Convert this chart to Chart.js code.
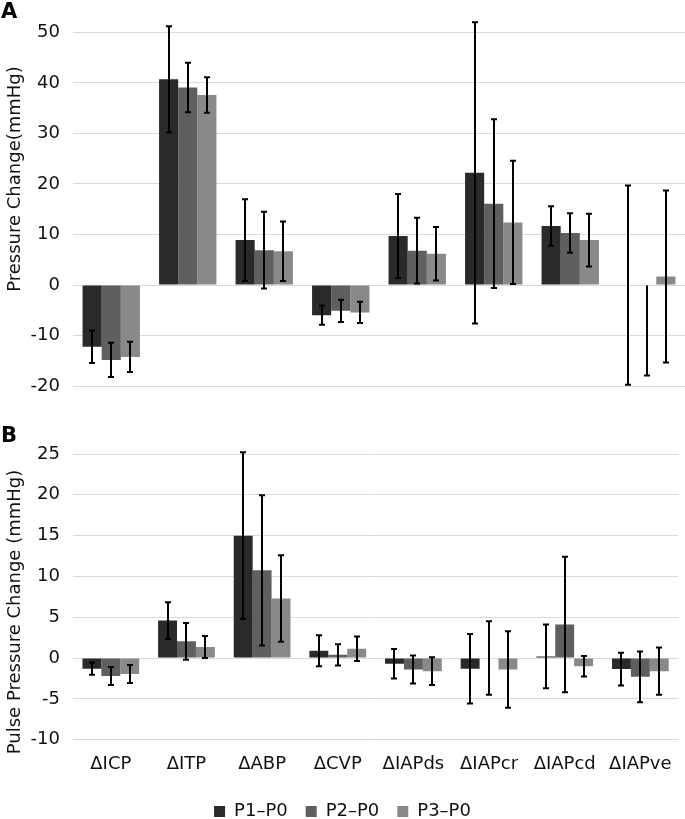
<!DOCTYPE html>
<html>
<head>
<meta charset="utf-8">
<script src="https://cdn.jsdelivr.net/npm/chart.js@4.4.0/dist/chart.umd.min.js"></script>
<style>
  body { margin: 0; background: #fff; }
  #wrap { position: relative; width: 685px; height: 819px; }
  #chartA { position: absolute; left: 0; top: 0; }
  #chartB { position: absolute; left: 0; top: 410px; }
</style>
</head>
<body>
<div id="wrap">
  <canvas id="chartA" width="685" height="410"></canvas>
  <canvas id="chartB" width="685" height="409"></canvas>
</div>
<script>
var categories = ["ΔICP", "ΔITP", "ΔABP", "ΔCVP", "ΔIAPds", "ΔIAPcr", "ΔIAPcd", "ΔIAPve"];
var seriesNames = ["P1–P0", "P2–P0", "P3–P0"];

// panel A: pressure change, mean and SD
var p1A = [-12.2, 40.7, 8.9, -5.95, 9.7, 22.2, 11.7, 0];
var p2A = [-14.8, 39.1, 6.9, -5.1, 6.8, 16.1, 10.3, -0.1];
var p3A = [-14.2, 37.6, 6.7, -5.4, 6.2, 12.4, 8.9, 1.7];
var sd1A = [3.2, 10.5, 8.1, 1.9, 8.3, 29.8, 3.9, 19.7];
var sd2A = [3.4, 4.9, 7.6, 2.2, 6.5, 16.7, 3.9, [17.8, 0]]; // [minus, plus]
var sd3A = [3.0, 3.5, 5.9, 2.1, 5.3, 12.2, 5.2, 17.0];
var ticksA = { min: -20, max: 50, step: 10 };

// panel B: pulse pressure change, mean and SD
var p1B = [-1.3, 4.6, 15.0, 0.9, -0.7, -1.3, 0.2, -1.35];
var p2B = [-2.2, 2.05, 10.75, 0.4, -1.4, 0, 4.1, -2.3];
var p3B = [-1.95, 1.35, 7.3, 1.15, -1.6, -1.4, -1.0, -1.6];
var sd1B = [0.75, 2.25, 10.2, 1.9, 1.8, 4.25, 3.9, 2.0];
var sd2B = [1.1, 2.25, 9.2, 1.3, 1.7, 4.5, 8.3, 3.1];
var sd3B = [1.1, 1.35, 5.3, 1.5, 1.7, 4.7, 1.25, 2.9];
var ticksB = { min: -10, max: 25, step: 5 };

var colors = ["#2a2a2a", "#5f5f5f", "#898989"];
var FONT = "'DejaVu Sans', sans-serif";
var TXT = "#111";

Chart.defaults.font.family = FONT;
Chart.defaults.color = TXT;

// draws the SD whiskers on top of each bar
var errorBars = {
  id: "errorBars",
  afterDatasetsDraw: function (chart) {
    var ctx = chart.ctx;
    var yScale = chart.scales.y;
    ctx.save();
    ctx.strokeStyle = "#000";
    ctx.lineWidth = 2;
    chart.data.datasets.forEach(function (ds, i) {
      var meta = chart.getDatasetMeta(i);
      meta.data.forEach(function (bar, j) {
        var e = ds.errors[j];
        var minus = Array.isArray(e) ? e[0] : e;
        var plus = Array.isArray(e) ? e[1] : e;
        var v = ds.data[j];
        var yTop = yScale.getPixelForValue(v + plus);
        var yBot = yScale.getPixelForValue(v - minus);
        var x = Math.round(bar.x);
        ctx.beginPath();
        ctx.moveTo(x, yTop);
        ctx.lineTo(x, yBot);
        if (plus > 0) {
          ctx.moveTo(x - 3, yTop);
          ctx.lineTo(x + 3, yTop);
        }
        if (minus > 0) {
          ctx.moveTo(x - 3, yBot);
          ctx.lineTo(x + 3, yBot);
        }
        ctx.stroke();
      });
    });
    ctx.restore();
  },
};

// panel letter and the rotated y title
var panelText = {
  id: "panelText",
  afterDraw: function (chart, args, opts) {
    var ctx = chart.ctx;
    ctx.save();
    ctx.fillStyle = "#000";
    ctx.font = "bold 21px " + FONT;
    ctx.textBaseline = "middle";
    ctx.textAlign = "left";
    ctx.fillText(opts.letter, 1, opts.letterY);
    ctx.fillStyle = TXT;
    ctx.font = "18px " + FONT;
    ctx.translate(15, opts.titleY);
    ctx.rotate(-Math.PI / 2);
    ctx.textAlign = "center";
    ctx.fillText(opts.title, 0, 0);
    ctx.restore();
  },
};

function makeDatasets(vals, sds) {
  return vals.map(function (v, i) {
    return {
      label: seriesNames[i],
      data: v,
      errors: sds[i],
      backgroundColor: colors[i],
      borderWidth: 0,
      barPercentage: 1,
      categoryPercentage: 0.75,
    };
  });
}

function yAxis(t) {
  return {
    min: t.min,
    max: t.max,
    border: { display: false },
    grid: { color: "#d9d9d9", lineWidth: 1, drawTicks: false },
    ticks: { stepSize: t.step, padding: 13, color: TXT, font: { size: 18 } },
    afterFit: function (scale) {
      scale.width = 73;
    },
  };
}

new Chart(document.getElementById("chartA"), {
  type: "bar",
  data: { labels: categories, datasets: makeDatasets([p1A, p2A, p3A], [sd1A, sd2A, sd3A]) },
  options: {
    responsive: false,
    animation: false,
    layout: { padding: { top: 32.3, bottom: 12.3, left: 0, right: 0 } },
    plugins: {
      legend: { display: false },
      tooltip: { enabled: false },
      panelText: { letter: "A", letterY: 13, title: "Pressure Change(mmHg)", titleY: 179 },
    },
    scales: {
      x: { display: false },
      y: yAxis(ticksA),
    },
  },
  plugins: [errorBars, panelText],
});

new Chart(document.getElementById("chartB"), {
  type: "bar",
  data: { labels: categories, datasets: makeDatasets([p1B, p2B, p3B], [sd1B, sd2B, sd3B]) },
  options: {
    responsive: false,
    animation: false,
    layout: { padding: { top: 44, bottom: -11.5, left: 0, right: 0 } },
    plugins: {
      legend: {
        position: "bottom",
        labels: {
          boxWidth: 11,
          boxHeight: 11,
          padding: 18,
          color: TXT,
          font: { size: 18 },
        },
      },
      tooltip: { enabled: false },
      panelText: { letter: "B", letterY: 27, title: "Pulse Pressure Change (mmHg)", titleY: 202 },
    },
    scales: {
      x: {
        border: { display: false },
        grid: { display: false, drawTicks: false },
        ticks: { padding: 13.4, color: TXT, font: { size: 18 } },
        afterFit: function (scale) {
          scale.height = 44.8;
        },
      },
      y: yAxis(ticksB),
    },
  },
  plugins: [errorBars, panelText],
});
</script>
</body>
</html>
